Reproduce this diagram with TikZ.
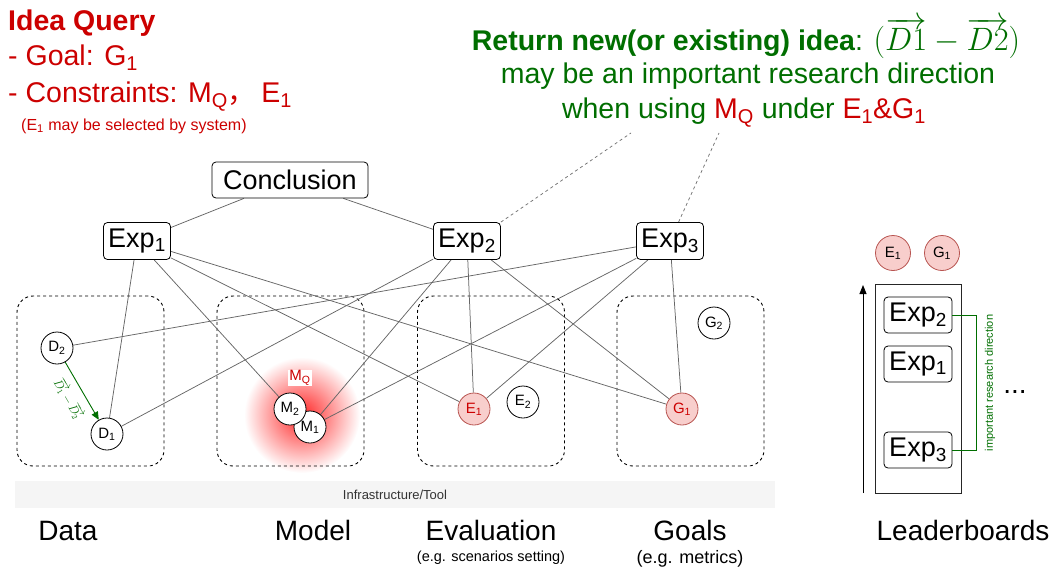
\documentclass[tikz,border=0pt]{standalone}
\usepackage{fontspec}
\setmainfont{Liberation Sans}
\newfontfamily\cjkfont{Noto Sans CJK SC}
\usetikzlibrary{arrows.meta,backgrounds}
\definecolor{qred}{RGB}{204,0,0}
\definecolor{qgreen}{RGB}{0,110,0}
\definecolor{pinkfill}{RGB}{248,206,204}
\definecolor{pinkline}{RGB}{184,84,80}
\definecolor{barfill}{RGB}{245,245,245}
\newcommand\fs[1]{\fontsize{#1}{#1}\selectfont}
\newcommand\sbs[1]{\textsubscript{#1}}
\begin{document}
\begin{tikzpicture}[x=1pt,y=-1pt,
  expbox/.style={draw=black, fill=white, rounded corners=4pt, line width=0.8pt,
    minimum width=67, minimum height=37, inner sep=0pt, font=\fs{27}},
  circ/.style={circle, draw=black, fill=white, line width=0.8pt,
    minimum size=32, inner sep=0pt, font=\fs{15}},
  hot/.style={circ, fill=pinkfill, draw=pinkline, text=qred},
  link/.style={draw=black!60, line width=0.75pt},
  pointer/.style={draw=black!55, line width=0.75pt, dash pattern=on 3pt off 3pt},
  groupbox/.style={draw=black, line width=0.9pt, dash pattern=on 3pt off 3pt,
    rounded corners=16pt, minimum width=147, minimum height=170, inner sep=0pt},
  caption/.style={font=\fs{28}, anchor=base, inner sep=0pt},
  note/.style={anchor=base, inner sep=0pt}]
\useasboundingbox (0,0) rectangle (1062,573);

% ---- query text ----
\node[note, anchor=base west, text=qred, font=\fs{28.5}\bfseries] (qtitle) at (8,30) {Idea Query};
\node[note, anchor=base west, text=qred, font=\fs{28.5}] (qgoal) at (8,65) {- Goal: G\sbs{1}};
\node[note, anchor=base west, text=qred, font=\fs{28.5}] (qcons) at (8,102)
  {- Constraints: M\sbs{Q}{\cjkfont ，}\hspace{5pt}E\sbs{1}};
\node[note, anchor=base west, text=qred, font=\fs{16}] (qhint) at (21,130)
  {(E\sbs{1} may be selected by system)};

% ---- returned idea ----
\node[note, text=qgreen, font=\fs{28.5}] (ret1) at (746,50)
  {\textbf{Return new(or existing) idea}: \scalebox{1.3}{$(\overrightarrow{D1}-\overrightarrow{D2})$}};
\node[note, text=qgreen, font=\fs{28.5}] (ret2) at (748,83)
  {may be an important research direction};
\node[note, text=qgreen, font=\fs{28.5}] (ret3) at (744,118)
  {when using {\color{qred}M\sbs{Q}} under {\color{qred}E\sbs{1}\&G\sbs{1}}};

% ---- experiment hierarchy ----
\node[expbox, minimum width=156, minimum height=36] (conc) at (290,180) {Conclusion};
\node[expbox] (x1) at (137,241) {Exp\sbs{1}};
\node[expbox] (x2) at (467,241) {Exp\sbs{2}};
\node[expbox] (x3) at (670,241) {Exp\sbs{3}};

% ---- component nodes ----
\node[circ] (d2) at (57,348) {D\sbs{2}};
\node[circ] (d1) at (107,434) {D\sbs{1}};
\node[circ] (m1) at (310,427) {M\sbs{1}};
\node[circ] (m2) at (290,409) {M\sbs{2}};
\node[hot] (e1) at (474,409) {E\sbs{1}};
\node[circ] (e2) at (523,402) {E\sbs{2}};
\node[hot] (g1) at (682,409) {G\sbs{1}};
\node[circ] (g2) at (714,323) {G\sbs{2}};
\node[fill=white, inner sep=1pt, text=qred, font=\fs{15}] (mq) at (300,378) {M\sbs{Q}};

% difference direction inside the data group
\draw[qgreen, line width=0.9pt, -{Triangle[length=8pt,width=7pt]}] (d2) -- (d1)
  node[midway, sloped, below=5pt, font=\fs{12}, text=qgreen] (dlab)
  {$\overrightarrow{D_1}-\overrightarrow{D_2}$};

% ---- group captions ----
\node[caption] (cdata) at (68,540) {Data};
\node[caption] (cmodel) at (313,540) {Model};
\node[caption] (ceval) at (491,540) {Evaluation};
\node[caption] (cgoal) at (690,540) {Goals};
\node[note, font=\fs{14.5}] (seval) at (491,561) {(e.g. scenarios setting)};
\node[note, font=\fs{18}] (sgoal) at (690,563) {(e.g. metrics)};

% ---- leaderboard ----
\node[hot, text=black, minimum size=35] (le1) at (893,253) {E\sbs{1}};
\node[hot, text=black, minimum size=35] (lg1) at (942,253) {G\sbs{1}};
\node[draw=black!85, line width=0.9pt, minimum width=86, minimum height=209, inner sep=0pt] (board) at (918,388.5) {};
\node[expbox, minimum width=68, minimum height=36] (lb2) at (918,315) {Exp\sbs{2}};
\node[expbox, minimum width=68, minimum height=36] (lb1) at (918,364) {Exp\sbs{1}};
\node[expbox, minimum width=68, minimum height=36] (lb3) at (918,450) {Exp\sbs{3}};
\coordinate (rankbot) at (863,493);
\coordinate (ranktop) at (863,285);
\draw[black, line width=0.9pt, -{Triangle[length=9pt,width=7pt]}] (rankbot) -- (ranktop);
\draw[qgreen, line width=0.9pt] (lb2.east) -- ++(24,0) coordinate (brk) |- (lb3.east);
\node[rotate=90, text=qgreen, font=\fs{11}] (ird) at (990,383) {important research direction};
\node[note, font=\fs{28}] (more) at (1015,393) {...};
\node[caption] (cboard) at (963,540) {Leaderboards};

% pointers from the result text
\coordinate (p2) at (631,133);
\coordinate (p3) at (719,133);

\begin{scope}[on background layer]
  % highlight around the queried model
  \shade[inner color=red!85, outer color=white] (302,415) circle (58);
  % dashed component groups
  \node[groupbox] (gdata) at (90.5,381) {};
  \node[groupbox] (gmodel) at (290.5,381) {};
  \node[groupbox] (geval) at (491,381) {};
  \node[groupbox] (ggoal) at (690.5,381) {};
  % infrastructure strip
  \node[fill=barfill, minimum width=760, minimum height=27, inner sep=0pt,
        font=\fs{13}, text=black!80] (infra) at (395,494.5) {Infrastructure/Tool};
  % experiment links
  \foreach \a/\b in {conc/x1, conc/x2, x1/d1, x1/m2, x1/e1, x1/g1,
                     x2/d1, x2/m1, x2/e1, x2/g1, x3/d2, x3/m1, x3/e1, x3/g1}
    \draw[link] (\a) -- (\b);
  \draw[pointer] (x2.north east) -- (p2);
  \draw[pointer] (x3) -- (p3);
\end{scope}
\end{tikzpicture}
\end{document}
